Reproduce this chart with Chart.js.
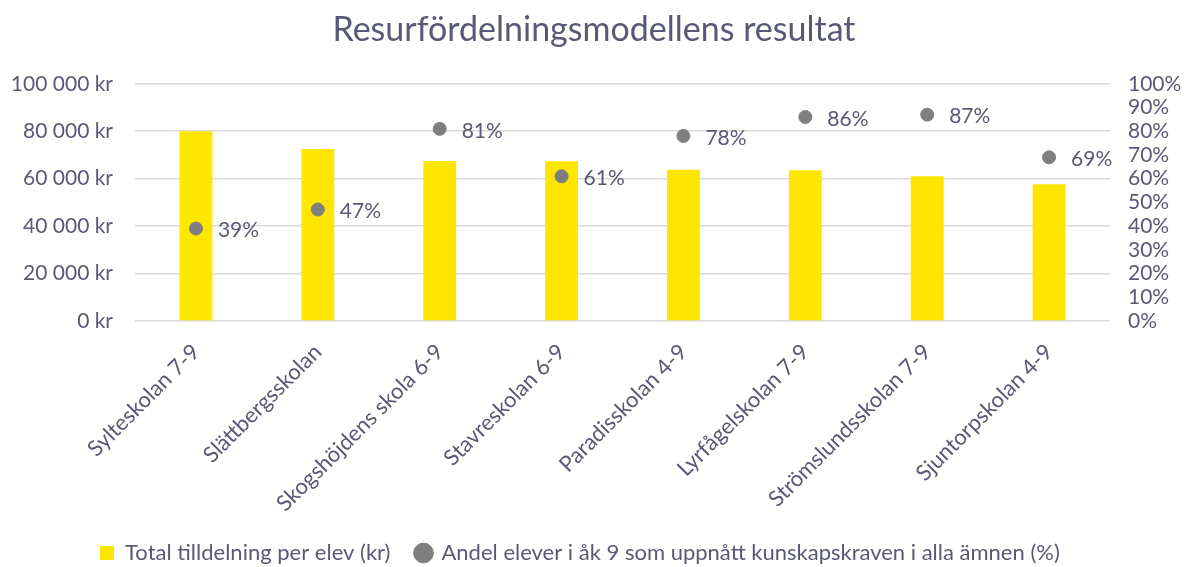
<!DOCTYPE html>
<html>
<head>
<meta charset="utf-8">
<script src="https://cdn.jsdelivr.net/npm/chart.js@4"></script>
<style>
  html, body { margin: 0; padding: 0; background: #fff; }
  #wrap { width: 1188px; height: 567px; }
</style>
</head>
<body>
<div id="wrap"><canvas id="chart" width="1188" height="567"></canvas></div>
<script>
// Skolor och värden
var schools = ['Sylteskolan 7-9', 'Slättbergsskolan', 'Skogshöjdens skola 6-9', 'Stavreskolan 6-9',
    'Paradisskolan 4-9', 'Lyrfågelskolan 7-9', 'Strömslundsskolan 7-9', 'Sjuntorpskolan 4-9'];
var perStudent = [80000, 72500, 67500, 67300, 63800, 63600, 61000, 57700];
var passShare = [39, 47, 81, 61, 78, 86, 87, 69];

var textColor = '#595975';
var fontFamily = 'Lato, "Open Sans", sans-serif';

// Skriver ut procentetiketter till höger om punkterna
var pointLabels = {
    id: 'pointLabels',
    afterDatasetsDraw: function (chart) {
        var ctx = chart.ctx;
        var meta = chart.getDatasetMeta(1);
        ctx.save();
        ctx.font = '21px ' + fontFamily;
        ctx.fillStyle = textColor;
        ctx.textAlign = 'left';
        ctx.textBaseline = 'middle';
        meta.data.forEach(function (pt, i) {
            ctx.fillText(passShare[i] + '%', pt.x + 22, pt.y + 2);
        });
        ctx.restore();
    }
};

function krFormat(v) {
    return String(v).replace(/\B(?=(\d{3})+(?!\d))/g, ' ') + ' kr';
}

var ctx = document.getElementById('chart').getContext('2d');
new Chart(ctx, {
    data: {
        labels: schools,
        datasets: [{
            type: 'bar',
            label: 'Total tilldelning per elev (kr)',
            data: perStudent,
            backgroundColor: '#FFE600',
            barPercentage: 0.27,
            categoryPercentage: 1,
            pointStyle: 'rect',
            yAxisID: 'y',
            order: 2
        }, {
            type: 'line',
            label: 'Andel elever i åk 9 som uppnått kunskapskraven i alla ämnen (%)',
            data: passShare,
            showLine: false,
            pointRadius: 6.5,
            pointStyle: 'circle',
            backgroundColor: '#7f7f7f',
            borderColor: '#7f7f7f',
            yAxisID: 'y1',
            order: 1
        }]
    },
    options: {
        responsive: false,
        animation: false,
        layout: { padding: { left: 0, right: 0, top: 0, bottom: -7 } },
        plugins: {
            title: {
                display: true,
                text: 'Resurfördelningsmodellens resultat',
                color: textColor,
                font: { family: fontFamily, size: 34, weight: 'normal' },
                padding: { top: 10, bottom: 33 }
            },
            legend: {
                position: 'bottom',
                labels: {
                    usePointStyle: true,
                    boxWidth: 14,
                    boxHeight: 14,
                    padding: 26,
                    color: textColor,
                    font: { family: fontFamily, size: 22 },
                    sort: function (a, b) { return a.datasetIndex - b.datasetIndex; },
                    generateLabels: function (chart) {
                        var items = Chart.defaults.plugins.legend.labels.generateLabels(chart);
                        // lite extra luft mellan posterna
                        items[0].text = items[0].text + '\u00a0\u00a0\u00a0\u00a0\u00a0';
                        return items;
                    }
                }
            },
            tooltip: { enabled: false }
        },
        scales: {
            x: {
                grid: { display: false },
                border: { display: false },
                ticks: {
                    color: textColor,
                    font: { family: fontFamily, size: 22 },
                    minRotation: 45,
                    maxRotation: 45,
                    padding: 10
                },
                afterFit: function (scale) { scale.height = 195; }
            },
            y: {
                position: 'left',
                min: 0,
                max: 100000,
                ticks: {
                    stepSize: 20000,
                    color: textColor,
                    font: { family: fontFamily, size: 21 },
                    padding: 22,
                    callback: function (v) { return krFormat(v); }
                },
                grid: { color: '#d9d9d9', lineWidth: 1.5, drawTicks: false },
                border: { display: false },
                afterFit: function (scale) { scale.width = 135; }
            },
            y1: {
                position: 'right',
                min: 0,
                max: 100,
                ticks: {
                    stepSize: 10,
                    autoSkip: false,
                    color: textColor,
                    font: { family: fontFamily, size: 21 },
                    padding: 10,
                    callback: function (v) { return v + '%'; }
                },
                grid: { display: false },
                border: { display: false },
                afterFit: function (scale) { scale.width = 78; }
            }
        }
    },
    plugins: [pointLabels]
});
</script>
</body>
</html>
